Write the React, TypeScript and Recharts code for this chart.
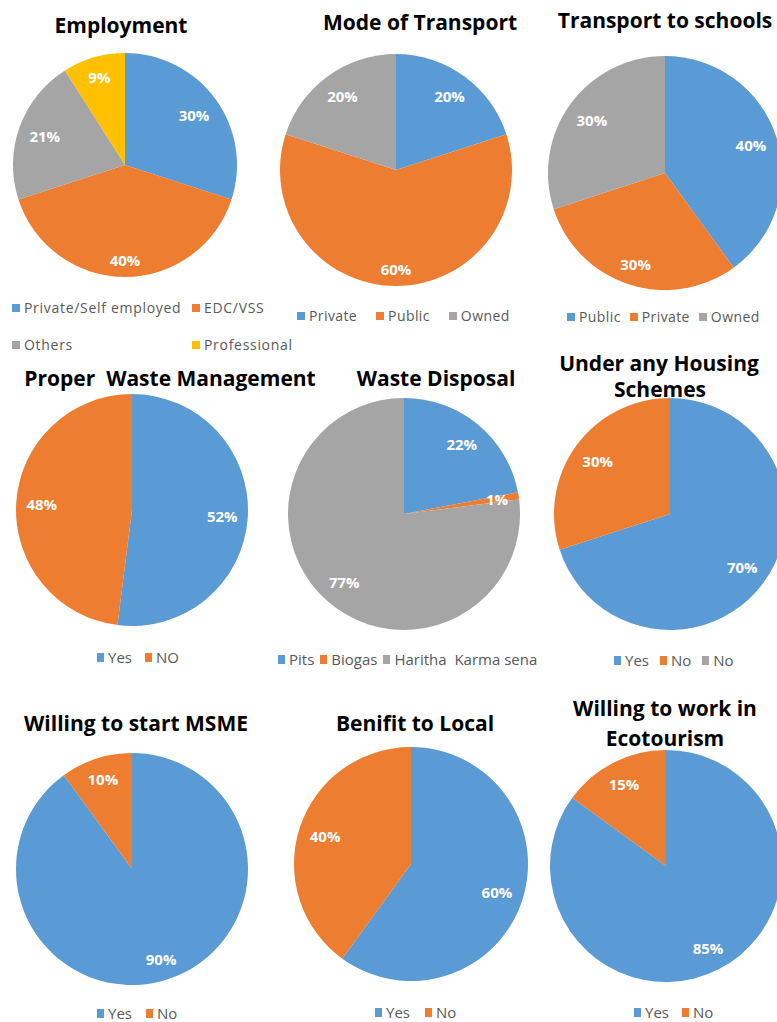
import React from "react";
import { PieChart, Pie, Cell } from "recharts";

// ---------- data ----------
const employmentCats = ["Private/Self employed", "EDC/VSS", "Others", "Professional"];
const employmentVals = [30, 40, 21, 9];

const transportCats = ["Private", "Public", "Owned"];
const transportVals = [20, 60, 20];

const schoolCats = ["Public", "Private", "Owned"];
const schoolVals = [40, 30, 30];

const wasteMgmtCats = ["Yes", "NO"];
const wasteMgmtVals = [52, 48];

const disposalCats = ["Pits", "Biogas", "Haritha  Karma sena"];
const disposalVals = [22, 1, 77];

const housingCats = ["Yes", "No", "No"];
const housingVals = [70, 30, 0];

const msmeCats = ["Yes", "No"];
const msmeVals = [90, 10];

const benefitCats = ["Yes", "No"];
const benefitVals = [60, 40];

const ecoCats = ["Yes", "No"];
const ecoVals = [85, 15];

const PALETTE = ["#5B9BD5", "#ED7D31", "#A5A5A5", "#FFC000"];

const toData = (cats: string[], vals: number[]) =>
  cats.map((c, i) => ({ name: c, value: vals[i] }));

// ---------- layout ----------
type ChartCfg = {
  key: string;
  cats: string[];
  vals: number[];
  cx: number;
  cy: number;
  r: number;
  title: { text: string; x: number; y: number }[];
  legend: { x: number; y: number; gap: number; size: number; ls: number; big?: boolean; grid?: { cols: number[]; rows: number[] } };
};

const charts: ChartCfg[] = [
  {
    key: "emp", cats: employmentCats, vals: employmentVals, cx: 125, cy: 165, r: 112,
    title: [{ text: "Employment", x: 121, y: 25 }],
    legend: { x: 12, y: 308, gap: 0, size: 14, ls: 0.7, grid: { cols: [12, 192], rows: [308, 345] } },
  },
  {
    key: "mode", cats: transportCats, vals: transportVals, cx: 396, cy: 170, r: 116,
    title: [{ text: "Mode of Transport", x: 420, y: 22 }],
    legend: { x: 297, y: 316, gap: 19, size: 14, ls: 0.4 },
  },
  {
    key: "school", cats: schoolCats, vals: schoolVals, cx: 665, cy: 173, r: 117,
    title: [{ text: "Transport to schools", x: 665, y: 20 }],
    legend: { x: 567, y: 317, gap: 9, size: 14, ls: 0.4 },
  },
  {
    key: "wm", cats: wasteMgmtCats, vals: wasteMgmtVals, cx: 132, cy: 510, r: 116,
    title: [{ text: "Proper  Waste Management", x: 170, y: 378 }],
    legend: { x: 97, y: 657, gap: 13, size: 15, ls: 0, big: true },
  },
  {
    key: "wd", cats: disposalCats, vals: disposalVals, cx: 404, cy: 514, r: 116,
    title: [{ text: "Waste Disposal", x: 436, y: 378 }],
    legend: { x: 278, y: 659, gap: 6, size: 15, ls: 0, big: true },
  },
  {
    key: "house", cats: housingCats, vals: housingVals, cx: 670, cy: 514, r: 116,
    title: [
      { text: "Under any Housing", x: 659, y: 363 },
      { text: "Schemes", x: 660, y: 389 },
    ],
    legend: { x: 614, y: 660, gap: 11, size: 15, ls: 0, big: true },
  },
  {
    key: "msme", cats: msmeCats, vals: msmeVals, cx: 132, cy: 869, r: 116,
    title: [{ text: "Willing to start MSME", x: 136, y: 723 }],
    legend: { x: 97, y: 1013, gap: 14, size: 15, ls: 0, big: true },
  },
  {
    key: "ben", cats: benefitCats, vals: benefitVals, cx: 411, cy: 864, r: 117,
    title: [{ text: "Benifit to Local", x: 415, y: 723 }],
    legend: { x: 375, y: 1012, gap: 15, size: 15, ls: 0, big: true },
  },
  {
    key: "eco", cats: ecoCats, vals: ecoVals, cx: 666, cy: 866, r: 116,
    title: [
      { text: "Willing to work in", x: 665, y: 708 },
      { text: "Ecotourism", x: 665, y: 738 },
    ],
    legend: { x: 634, y: 1012, gap: 13, size: 15, ls: 0, big: true },
  },
];

const RAD = Math.PI / 180;
const renderLabel = (p: any) => {
  const { cx, cy, midAngle, outerRadius, value } = p;
  if (!value) return null;
  const text = `${value}%`;
  const digits = String(value).length;
  const w = digits * 8.6 + 13;
  const hw = w / 2;
  const hh = 7.5;
  const ux = Math.cos(-midAngle * RAD);
  const uy = Math.sin(-midAngle * RAD);
  const extent = hw * Math.abs(ux) + hh * Math.abs(uy);
  const R = outerRadius - 10 - extent;
  const x = cx + R * ux;
  const y = cy + R * uy;
  return (
    <text
      x={x}
      y={y}
      fill="#ffffff"
      textAnchor="middle"
      dominantBaseline="central"
      fontFamily="'Open Sans', sans-serif"
      fontWeight={700}
      fontSize={15}
    >
      {text}
    </text>
  );
};

const LegendItem = ({ label, color, size, ls, big }: { label: string; color: string; size: number; ls: number; big?: boolean }) => (
  <div style={{ display: "flex", alignItems: "center", whiteSpace: "pre" }}>
    <span
      style={{
        display: "inline-block",
        width: big ? 7 : 8,
        height: big ? 9 : 8,
        background: color,
        marginRight: 4,
      }}
    />
    <span style={{ fontSize: size, color: "#595959", letterSpacing: ls, lineHeight: "20px" }}>{label}</span>
  </div>
);

export default function App() {
  return (
    <div
      style={{
        position: "absolute",
        left: 0,
        top: 0,
        width: 777,
        height: 1022,
        background: "#ffffff",
        overflow: "hidden",
        fontFamily: "'Open Sans', sans-serif",
      }}
    >
      <div style={{ position: "absolute", left: 0, top: 0 }}>
        <PieChart width={777} height={1022} margin={{ top: 0, right: 0, bottom: 0, left: 0 }}>
          {charts.map((c) => (
            <Pie
              key={c.key}
              data={toData(c.cats, c.vals)}
              dataKey="value"
              nameKey="name"
              cx={c.cx}
              cy={c.cy}
              outerRadius={c.r}
              innerRadius={0}
              startAngle={90}
              endAngle={-270}
              stroke="none"
              label={renderLabel}
              labelLine={false}
              isAnimationActive={false}
            >
              {c.cats.map((_, i) => (
                <Cell key={i} fill={PALETTE[i % PALETTE.length]} />
              ))}
            </Pie>
          ))}
        </PieChart>
      </div>

      {charts.map((c) =>
        c.title.map((t, i) => (
          <div
            key={c.key + "t" + i}
            style={{
              position: "absolute",
              left: t.x - 200,
              top: t.y - 14,
              width: 400,
              height: 28,
              lineHeight: "28px",
              textAlign: "center",
              fontSize: 21,
              fontWeight: 700,
              color: "#000",
              whiteSpace: "pre",
            }}
          >
            {t.text}
          </div>
        ))
      )}

      {charts.map((c) =>
        c.legend.grid ? (
          c.cats.map((cat, i) => (
            <div
              key={c.key + "l" + i}
              style={{
                position: "absolute",
                left: c.legend.grid!.cols[i % 2],
                top: c.legend.grid!.rows[Math.floor(i / 2)] - 10,
              }}
            >
              <LegendItem label={cat} color={PALETTE[i]} size={c.legend.size} ls={c.legend.ls} />
            </div>
          ))
        ) : (
          <div
            key={c.key + "l"}
            style={{
              position: "absolute",
              left: c.legend.x,
              top: c.legend.y - 10,
              display: "flex",
              gap: c.legend.gap,
            }}
          >
            {c.cats.map((cat, i) => (
              <LegendItem key={i} label={cat} color={PALETTE[i]} size={c.legend.size} ls={c.legend.ls} big={c.legend.big} />
            ))}
          </div>
        )
      )}
    </div>
  );
}
